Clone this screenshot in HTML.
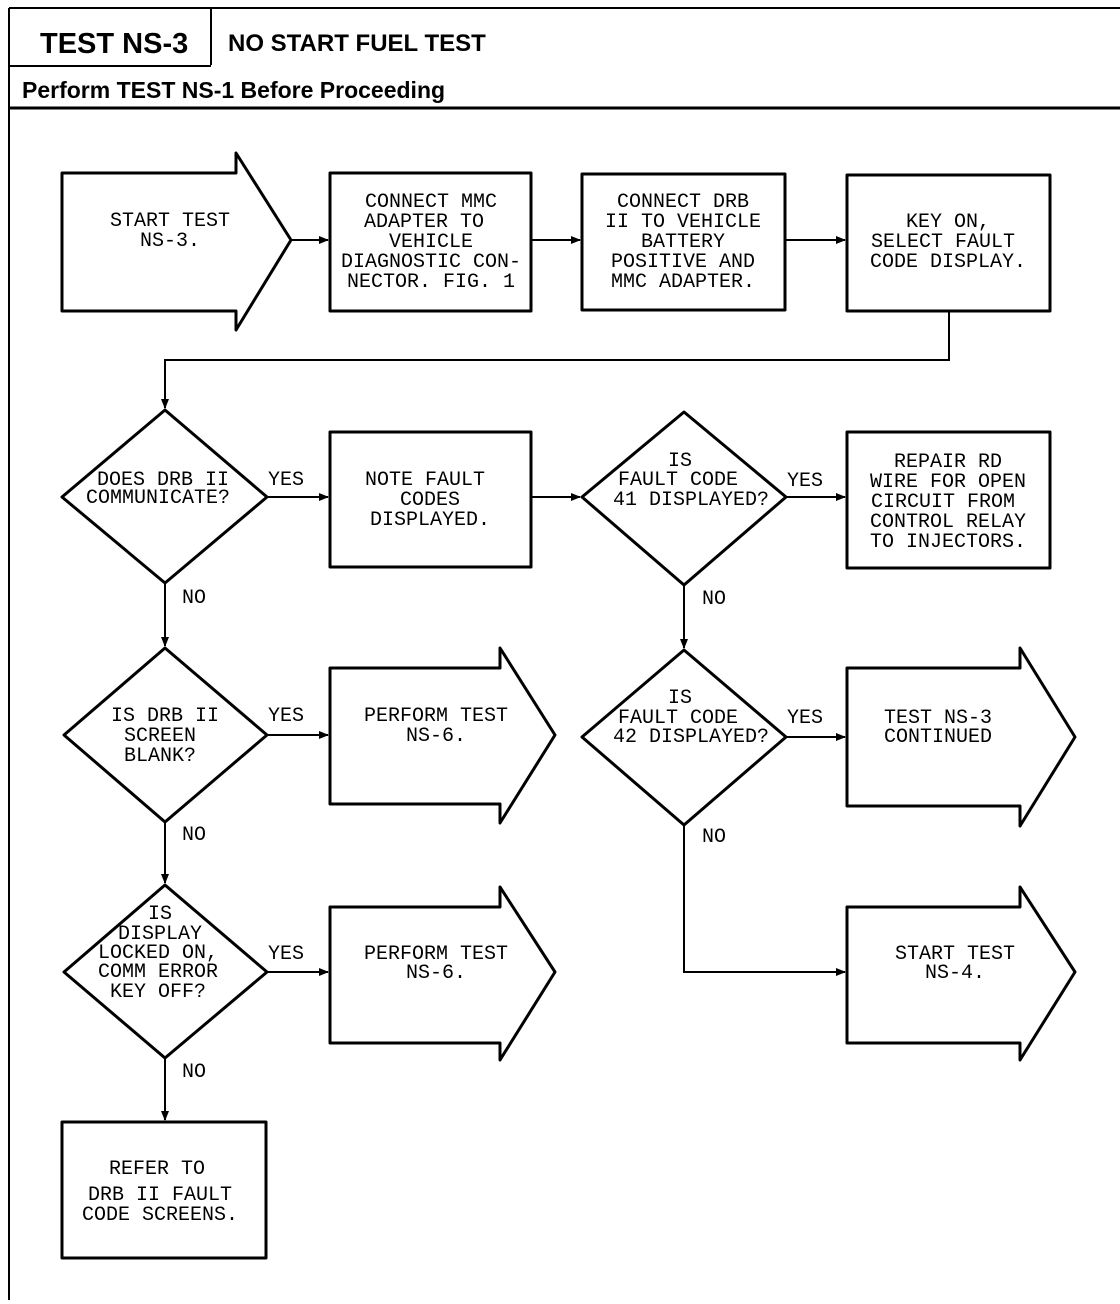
<!DOCTYPE html>
<html><head><meta charset="utf-8"><style>
html,body{margin:0;padding:0;background:#fff;}
svg{display:block;}
.t{font-family:"Liberation Mono",monospace;font-size:20px;fill:#000;text-anchor:middle;}
.h{font-family:"Liberation Sans",sans-serif;font-weight:bold;fill:#000;}
.s{fill:#fff;stroke:#000;stroke-width:3;stroke-linejoin:round;}
.c{stroke:#000;stroke-width:2;fill:none;}
</style></head><body>
<svg width="1120" height="1304" viewBox="0 0 1120 1304" xmlns="http://www.w3.org/2000/svg">
<defs><marker id="a" markerWidth="10" markerHeight="8" refX="9" refY="4" orient="auto" markerUnits="userSpaceOnUse"><path d="M0,0 L10,4 L0,8 z" fill="#000"/></marker></defs>
<!-- header -->
<line x1="9" y1="8" x2="1120" y2="8" stroke="#000" stroke-width="2"/>
<line x1="9" y1="8" x2="9" y2="1300" stroke="#000" stroke-width="2"/>
<line x1="211" y1="8" x2="211" y2="65" stroke="#000" stroke-width="2"/>
<line x1="9" y1="66" x2="211" y2="66" stroke="#000" stroke-width="2"/>
<line x1="9" y1="108" x2="1120" y2="108" stroke="#000" stroke-width="3"/>
<text class="h" x="40" y="53" font-size="29">TEST NS-3</text>
<text class="h" x="228" y="51" font-size="24">NO START FUEL TEST</text>
<text class="h" x="22" y="98" font-size="23">Perform TEST NS-1 Before Proceeding</text>

<!-- row 1 -->
<polygon class="s" points="62,173 236,173 236,153 291,240 236,330 236,311 62,311"/>
<text class="t"><tspan x="170" y="226">START TEST</tspan><tspan x="170" y="246">NS-3.</tspan></text>
<rect class="s" x="330" y="173" width="201" height="138"/>
<text class="t"><tspan x="431" y="207">CONNECT MMC</tspan><tspan x="424" y="227">ADAPTER TO</tspan><tspan x="431" y="247">VEHICLE</tspan><tspan x="431" y="267">DIAGNOSTIC CON-</tspan><tspan x="431" y="287">NECTOR. FIG. 1</tspan></text>
<rect class="s" x="582" y="174" width="203" height="136"/>
<text class="t"><tspan x="683" y="207">CONNECT DRB</tspan><tspan x="683" y="227">II TO VEHICLE</tspan><tspan x="683" y="247">BATTERY</tspan><tspan x="683" y="267">POSITIVE AND</tspan><tspan x="683" y="287">MMC ADAPTER.</tspan></text>
<rect class="s" x="847" y="175" width="203" height="136"/>
<text class="t"><tspan x="948" y="227">KEY ON,</tspan><tspan x="943" y="247">SELECT FAULT</tspan><tspan x="948" y="267">CODE DISPLAY.</tspan></text>
<line class="c" x1="291" y1="240" x2="328" y2="240" marker-end="url(#a)"/>
<line class="c" x1="531" y1="240" x2="580" y2="240" marker-end="url(#a)"/>
<line class="c" x1="785" y1="240" x2="845" y2="240" stroke-width="3" marker-end="url(#a)"/>
<polyline class="c" points="949,311 949,360 165,360 165,408" marker-end="url(#a)"/>

<!-- row 2 -->
<polygon class="s" points="165,410 267,497 165,583 62,497"/>
<text class="t"><tspan x="163" y="485">DOES DRB II</tspan><tspan x="158" y="503">COMMUNICATE?</tspan></text>
<text class="t" x="286" y="485">YES</text>
<line class="c" x1="267" y1="497" x2="328" y2="497" marker-end="url(#a)"/>
<rect class="s" x="330" y="432" width="201" height="135"/>
<text class="t"><tspan x="425" y="485">NOTE FAULT</tspan><tspan x="430" y="505">CODES</tspan><tspan x="430" y="525">DISPLAYED.</tspan></text>
<line class="c" x1="531" y1="497" x2="580" y2="497" marker-end="url(#a)"/>
<polygon class="s" points="684,412 786,497 684,585 582,497"/>
<text class="t"><tspan x="680" y="466">IS</tspan><tspan x="678" y="485">FAULT CODE</tspan><tspan x="691" y="505">41 DISPLAYED?</tspan></text>
<text class="t" x="805" y="486">YES</text>
<line class="c" x1="786" y1="497" x2="845" y2="497" marker-end="url(#a)"/>
<rect class="s" x="847" y="432" width="203" height="136"/>
<text class="t"><tspan x="948" y="467">REPAIR RD</tspan><tspan x="948" y="487">WIRE FOR OPEN</tspan><tspan x="943" y="507">CIRCUIT FROM</tspan><tspan x="948" y="527">CONTROL RELAY</tspan><tspan x="948" y="547">TO INJECTORS.</tspan></text>
<text class="t" x="194" y="603">NO</text>
<line class="c" x1="165" y1="583" x2="165" y2="646" marker-end="url(#a)"/>
<text class="t" x="714" y="604">NO</text>
<line class="c" x1="684" y1="585" x2="684" y2="648" marker-end="url(#a)"/>

<!-- row 3 -->
<polygon class="s" points="165,648 267,735 165,822 64,735"/>
<text class="t"><tspan x="165" y="721">IS DRB II</tspan><tspan x="160" y="741">SCREEN</tspan><tspan x="160" y="761">BLANK?</tspan></text>
<text class="t" x="286" y="721">YES</text>
<line class="c" x1="267" y1="735" x2="328" y2="735" marker-end="url(#a)"/>
<polygon class="s" points="330,668 500,668 500,648 555,735 500,823 500,804 330,804"/>
<text class="t"><tspan x="436" y="721">PERFORM TEST</tspan><tspan x="436" y="741">NS-6.</tspan></text>
<polygon class="s" points="684,650 786,737 684,825 582,737"/>
<text class="t"><tspan x="680" y="703">IS</tspan><tspan x="678" y="723">FAULT CODE</tspan><tspan x="691" y="742">42 DISPLAYED?</tspan></text>
<text class="t" x="805" y="723">YES</text>
<line class="c" x1="786" y1="737" x2="845" y2="737" marker-end="url(#a)"/>
<polygon class="s" points="847,668 1020,668 1020,648 1075,737 1020,826 1020,806 847,806"/>
<text class="t"><tspan x="938" y="723">TEST NS-3</tspan><tspan x="938" y="742">CONTINUED</tspan></text>
<text class="t" x="194" y="840">NO</text>
<line class="c" x1="165" y1="822" x2="165" y2="883" marker-end="url(#a)"/>
<text class="t" x="714" y="842">NO</text>
<polyline class="c" points="684,825 684,972 845,972" marker-end="url(#a)"/>

<!-- row 4 -->
<polygon class="s" points="165,885 267,972 165,1058 64,972"/>
<text class="t"><tspan x="160" y="919">IS</tspan><tspan x="160" y="939">DISPLAY</tspan><tspan x="158" y="958">LOCKED ON,</tspan><tspan x="158" y="977">COMM ERROR</tspan><tspan x="158" y="997">KEY OFF?</tspan></text>
<text class="t" x="286" y="959">YES</text>
<line class="c" x1="267" y1="972" x2="328" y2="972" stroke-width="3" marker-end="url(#a)"/>
<polygon class="s" points="330,907 500,907 500,887 555,972 500,1060 500,1043 330,1043"/>
<text class="t"><tspan x="436" y="959">PERFORM TEST</tspan><tspan x="436" y="978">NS-6.</tspan></text>
<polygon class="s" points="847,907 1020,907 1020,887 1075,972 1020,1060 1020,1043 847,1043"/>
<text class="t"><tspan x="955" y="959">START TEST</tspan><tspan x="955" y="978">NS-4.</tspan></text>
<text class="t" x="194" y="1077">NO</text>
<line class="c" x1="165" y1="1058" x2="165" y2="1120" stroke-width="3" marker-end="url(#a)"/>
<rect class="s" x="62" y="1122" width="204" height="136"/>
<text class="t"><tspan x="157" y="1174">REFER TO</tspan><tspan x="160" y="1200">DRB II FAULT</tspan><tspan x="160" y="1220">CODE SCREENS.</tspan></text>
</svg>
</body></html>
